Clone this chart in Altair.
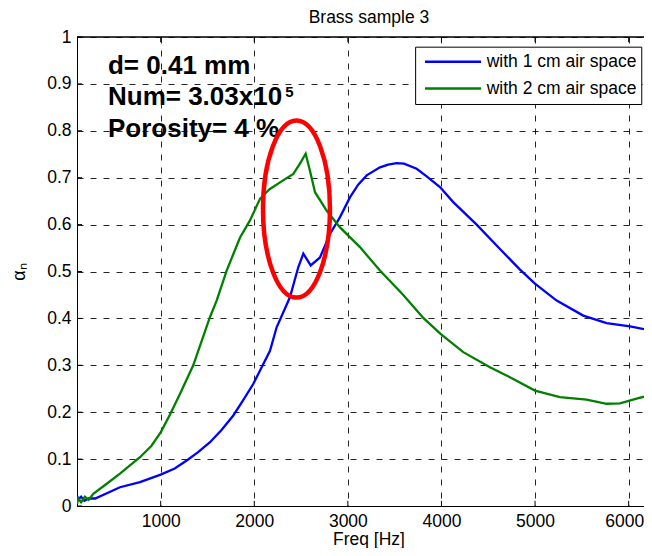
import altair as alt
import pandas as pd

# ---- data ----
freq_1cm = [106, 120, 150, 185, 230, 300, 565, 779, 1000, 1150, 1278, 1400, 1527, 1650, 1776,
            1880, 1989, 2079, 2168, 2239, 2381, 2470, 2524, 2603, 2702, 2809, 2916, 3022, 3110,
            3201, 3343, 3430, 3521, 3600, 3735, 3842, 3984, 4126, 4376, 4625, 4839, 4999, 5231,
            5515, 5765, 6014, 6164]
alpha_1cm = [0.022, 0.014, 0.020, 0.011, 0.016, 0.016, 0.040, 0.051, 0.067, 0.080, 0.097, 0.115,
             0.136, 0.162, 0.193, 0.225, 0.260, 0.296, 0.331, 0.381, 0.445, 0.509, 0.538, 0.513,
             0.530, 0.580, 0.616, 0.658, 0.685, 0.705, 0.722, 0.728, 0.731, 0.730, 0.719, 0.703,
             0.680, 0.648, 0.600, 0.548, 0.504, 0.474, 0.438, 0.406, 0.390, 0.383, 0.377]

freq_2cm = [106, 120, 150, 190, 230, 280, 420, 565, 779, 900, 1000, 1100, 1206, 1348, 1527,
            1598, 1705, 1847, 1954, 2061, 2160, 2275, 2417, 2488, 2549, 2595, 2649, 2773, 2916,
            3129, 3343, 3592, 3806, 3990, 4233, 4518, 4767, 4999, 5266, 5551, 5765, 5907, 6085,
            6164]
alpha_2cm = [0.005, 0.016, 0.008, 0.020, 0.013, 0.026, 0.047, 0.069, 0.104, 0.128, 0.157, 0.195,
             0.239, 0.300, 0.403, 0.438, 0.502, 0.572, 0.609, 0.655, 0.675, 0.690, 0.708, 0.730,
             0.751, 0.715, 0.669, 0.630, 0.594, 0.552, 0.502, 0.450, 0.401, 0.367, 0.328, 0.296,
             0.271, 0.246, 0.232, 0.227, 0.218, 0.219, 0.229, 0.233]

series_names = ["with 1 cm air space", "with 2 cm air space"]
series_colors = ["#0000ff", "#008000"]

x_ticks = [1000, 2000, 3000, 4000, 5000, 6000]
y_ticks = [0, 0.1, 0.2, 0.3, 0.4, 0.5, 0.6, 0.7, 0.8, 0.9, 1.0]

chart_title = "Brass sample 3"
x_title = "Freq [Hz]"
y_title = "αₙ"

annot_lines = ["d= 0.41 mm", "Num= 3.03x10", "Porosity= 4 %"]
annot_freq = [437, 437, 437]
annot_alpha = [0.9215, 0.8555, 0.7875]
sup_text = ["5"]
sup_freq = [2330]
sup_alpha = [0.872]

ellipse_freq = [2451]
ellipse_alpha = [0.633]

# placement of the legend box (in axis units)
legend_box = {"f1": 3724, "f2": 6140, "a1": 0.8561, "a2": 0.9783}
legend_line_f = [3824, 4423]
legend_row_alpha = [0.947, 0.890]
legend_text_f = 4483

# placement of the chart title and the x-axis title (in axis units)
title_pos = {"f": 3225, "a": 1.0300}
xtitle_pos = {"f": 3225, "a": -0.0842}

X_DOM = [106, 6164]
FONT = "Liberation Sans"

df = pd.concat([
    pd.DataFrame({"freq": freq_1cm, "alpha": alpha_1cm, "series": series_names[0]}),
    pd.DataFrame({"freq": freq_2cm, "alpha": alpha_2cm, "series": series_names[1]}),
], ignore_index=True)
df["idx"] = range(len(df))

xs = alt.Scale(domain=X_DOM, nice=False, zero=False)
ys = alt.Scale(domain=[0, 1], nice=False, zero=False)
cs = alt.Scale(domain=series_names, range=series_colors)

x_axis = alt.Axis(values=x_ticks, format="d", grid=True, gridDash=[6, 7], gridColor="#000000",
                  gridOpacity=0.85, ticks=False, domainColor="#000000", domainWidth=1,
                  labelFont=FONT, labelFontSize=17.5, labelColor="#000000", labelPadding=6,
                  labelOffset={"condition": {"test": "datum.value == 6000", "value": -4.5},
                               "value": 0},
                  title=None)
y_axis = alt.Axis(values=y_ticks, format=".1~f", grid=True, gridDash=[6, 7], gridColor="#000000",
                  gridOpacity=0.85, ticks=False, domainColor="#000000", domainWidth=1,
                  labelFont=FONT, labelFontSize=17.5, labelColor="#000000", labelPadding=6,
                  title=y_title, titleFont=FONT, titleFontSize=18, titleFontWeight="normal",
                  titleColor="#000000", titlePadding=18)

lines = alt.Chart(df).mark_line(strokeWidth=2.3, clip=True).encode(
    x=alt.X("freq:Q", scale=xs, axis=x_axis),
    y=alt.Y("alpha:Q", scale=ys, axis=y_axis),
    color=alt.Color("series:N", scale=cs, legend=None),
    order="idx:Q",
)

top_border = alt.Chart(pd.DataFrame({"a": [1.0], "f1": [X_DOM[0]], "f2": [X_DOM[1]]})).mark_rule(
    color="#000000", strokeWidth=1.5).encode(
    y=alt.Y("a:Q", scale=ys), x=alt.X("f1:Q", scale=xs), x2="f2:Q")

tick_df = pd.DataFrame({"f": x_ticks})
xticks_bottom = alt.Chart(tick_df).mark_rule(color="#000000").encode(
    x=alt.X("f:Q", scale=xs), y=alt.datum(0, scale=ys), y2=alt.datum(0.011))
xticks_top = alt.Chart(tick_df).mark_rule(color="#000000").encode(
    x=alt.X("f:Q", scale=xs), y=alt.datum(0.989, scale=ys), y2=alt.datum(1.0))
ytick_df = pd.DataFrame({"a": y_ticks})
yticks_left = alt.Chart(ytick_df).mark_rule(color="#000000").encode(
    y=alt.Y("a:Q", scale=ys), x=alt.datum(X_DOM[0], scale=xs), x2=alt.datum(160))

annot = alt.Chart(pd.DataFrame({"t": annot_lines, "f": annot_freq, "a": annot_alpha})).mark_text(
    align="left", baseline="alphabetic", font=FONT, fontSize=26, fontWeight="bold",
    color="#000000").encode(x=alt.X("f:Q", scale=xs), y=alt.Y("a:Q", scale=ys), text="t:N")
sup = alt.Chart(pd.DataFrame({"t": sup_text, "f": sup_freq, "a": sup_alpha})).mark_text(
    align="left", baseline="alphabetic", font=FONT, fontSize=15, fontWeight="bold",
    color="#000000").encode(x=alt.X("f:Q", scale=xs), y=alt.Y("a:Q", scale=ys), text="t:N")

ellipse_path = "M -0.3785 0 A 0.3785 1 0 1 0 0.3785 0 A 0.3785 1 0 1 0 -0.3785 0 Z"
ellipse = alt.Chart(pd.DataFrame({"f": ellipse_freq, "a": ellipse_alpha})).mark_point(
    shape=ellipse_path, size=31329, filled=False, stroke="#ff0000", strokeWidth=4.5,
    opacity=1).encode(x=alt.X("f:Q", scale=xs), y=alt.Y("a:Q", scale=ys))

# legend drawn with marks
leg_box = alt.Chart(pd.DataFrame([legend_box])).mark_rect(
    fill="#ffffff", stroke="#000000", strokeWidth=1).encode(
    x=alt.X("f1:Q", scale=xs), x2="f2:Q", y=alt.Y("a1:Q", scale=ys), y2="a2:Q")
leg_lines = alt.Chart(pd.DataFrame({
    "series": series_names, "f1": [legend_line_f[0]] * 2, "f2": [legend_line_f[1]] * 2,
    "a": legend_row_alpha})).mark_rule(strokeWidth=2.5).encode(
    x=alt.X("f1:Q", scale=xs), x2="f2:Q", y=alt.Y("a:Q", scale=ys),
    color=alt.Color("series:N", scale=cs, legend=None))
leg_text = alt.Chart(pd.DataFrame({
    "series": series_names, "f": [legend_text_f] * 2, "a": legend_row_alpha})).mark_text(
    align="left", baseline="middle", font=FONT, fontSize=17.5, color="#000000").encode(
    x=alt.X("f:Q", scale=xs), y=alt.Y("a:Q", scale=ys), text="series:N")

titles = alt.Chart(pd.DataFrame({
    "t": [chart_title, x_title], "f": [title_pos["f"], xtitle_pos["f"]],
    "a": [title_pos["a"], xtitle_pos["a"]]})).mark_text(
    align="center", baseline="alphabetic", font=FONT, fontSize=17.5, color="#000000").encode(
    x=alt.X("f:Q", scale=xs), y=alt.Y("a:Q", scale=ys), text="t:N")

chart = alt.layer(
    lines, top_border, xticks_bottom, xticks_top, yticks_left, annot, sup, ellipse,
    leg_box, leg_lines, leg_text, titles
).properties(
    width=567, height=469,
    autosize=alt.AutoSizeParams(type="none"),
    padding={"left": 69, "top": 29, "right": 0, "bottom": 42},
).configure_view(stroke=None).configure(background="#ffffff")

chart.save("out.html", embed_options={"renderer": "svg", "actions": False})
